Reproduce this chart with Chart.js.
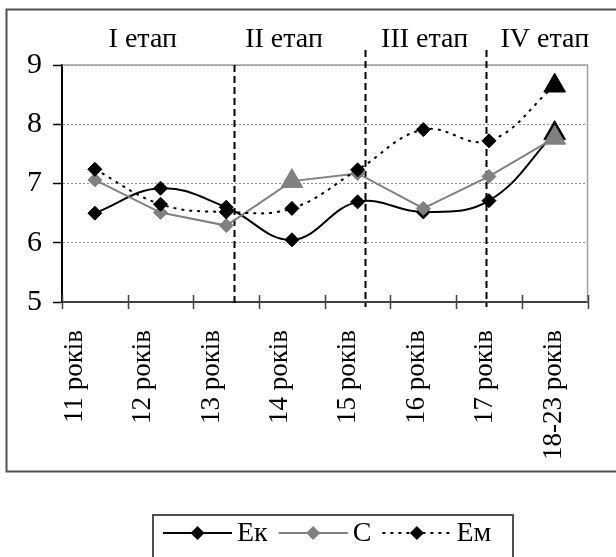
<!DOCTYPE html>
<html>
<head>
<meta charset="utf-8">
<script src="https://cdn.jsdelivr.net/npm/chart.js@4/dist/chart.umd.min.js"></script>
<style>
html,body{margin:0;padding:0;background:#fff;}
#wrap{width:616px;height:557px;position:relative;}
canvas{display:block;}
</style>
</head>
<body>
<div id="wrap"><canvas id="c" width="616" height="557"></canvas></div>
<script>
// ---- data ----
const categories = ['11 років', '12 років', '13 років', '14 років', '15 років', '16 років', '17 років', '18-23 років'];
const ekValues = [6.50, 6.92, 6.60, 6.05, 6.69, 6.52, 6.71, 7.85];
const sValues  = [7.06, 6.51, 6.29, 7.04, 7.17, 6.58, 7.12, 7.77];
const emValues = [7.24, 6.65, 6.52, 6.58, 7.23, 7.91, 7.72, 8.65];
const seriesNames = ['Ек', 'С', 'Ем'];
const yTicks = [5, 6, 7, 8, 9];
const stageNames = ['I етап', 'II етап', 'III етап', 'IV етап'];
// stage annotations in category-index units
const stageCenters = [0.73, 2.88, 5.02, 6.85];
const stageDividers = [2.12, 4.12, 5.96];

const FONT = "'Times New Roman', 'Liberation Serif', serif";

function styles(triIdx) {
  return categories.map((_, i) => triIdx.includes(i) ? 'triangle' : 'rectRot');
}
function radii(triIdx) {
  return categories.map((_, i) => triIdx.includes(i) ? 12.5 : 7);
}

const decor = {
  id: 'decor',
  beforeDatasetsDraw(chart) {
    const {ctx, chartArea: a} = chart;
    const x = chart.scales.x;
    ctx.save();
    ctx.strokeStyle = '#a0a0a0';
    ctx.lineWidth = 1.5;
    ctx.beginPath();
    ctx.moveTo(a.left, a.top); ctx.lineTo(a.right, a.top); ctx.lineTo(a.right, a.bottom);
    ctx.stroke();
    ctx.strokeStyle = '#000';
    ctx.lineWidth = 2;
    ctx.setLineDash([7, 4]);
    stageDividers.forEach((v, i) => {
      const px = Math.round(x.getPixelForValue(v)) + 0.5;
      ctx.beginPath();
      ctx.moveTo(px, i === 0 ? a.top : a.top - 15);
      ctx.lineTo(px, a.bottom + 5);
      ctx.stroke();
    });
    ctx.restore();
  },
  afterDraw(chart) {
    const {ctx, chartArea: a} = chart;
    const x = chart.scales.x;
    ctx.save();
    ctx.strokeStyle = '#404040';
    ctx.lineWidth = 1.5;
    for (let i = 0; i <= categories.length; i++) {
      const px = Math.round(x.getPixelForValue(i - 0.5)) + 0.5;
      ctx.beginPath();
      ctx.moveTo(px, a.bottom - 7); ctx.lineTo(px, a.bottom + 7);
      ctx.stroke();
    }
    ctx.fillStyle = '#000';
    ctx.font = '28px ' + FONT;
    ctx.textAlign = 'center';
    ctx.textBaseline = 'alphabetic';
    stageNames.forEach((t, i) => {
      ctx.fillText(t, x.getPixelForValue(stageCenters[i]), 47);
    });
    ctx.strokeStyle = '#505050';
    ctx.lineWidth = 2;
    ctx.strokeRect(6.5, 9.5, 620, 462);
    const lx0 = 153, lx1 = 513, ly0 = 515, ly = 533;
    ctx.strokeRect(lx0, ly0, lx1 - lx0, 60);
    ctx.font = '28px ' + FONT;
    ctx.textAlign = 'left';
    ctx.textBaseline = 'middle';
    let cx = 163;
    chart.data.datasets.forEach((ds) => {
      const len = 69;
      ctx.save();
      ctx.strokeStyle = ds.borderColor;
      ctx.lineWidth = ds.borderWidth;
      ctx.setLineDash(ds.borderDash || []);
      ctx.beginPath(); ctx.moveTo(cx, ly); ctx.lineTo(cx + len, ly); ctx.stroke();
      ctx.setLineDash([]);
      ctx.fillStyle = ds.pointBackgroundColor;
      const m = cx + len / 2, r = 7;
      ctx.beginPath();
      ctx.moveTo(m - r, ly); ctx.lineTo(m, ly - r); ctx.lineTo(m + r, ly); ctx.lineTo(m, ly + r);
      ctx.closePath(); ctx.fill();
      ctx.restore();
      ctx.fillStyle = '#000';
      const tx = cx + len + 5;
      ctx.fillText(ds.label, tx, ly + 1);
      cx = tx + ctx.measureText(ds.label).width + 11;
    });
    ctx.restore();
  }
};

new Chart(document.getElementById('c'), {
  type: 'line',
  data: {
    labels: categories,
    datasets: [
      {
        label: seriesNames[0], data: ekValues, xAxisID: 'x', yAxisID: 'y', order: 3,
        borderColor: '#000', borderWidth: 2, tension: 0.4,
        pointStyle: styles([7]), pointRadius: radii([7]),
        pointBackgroundColor: '#000', pointBorderColor: '#000', pointBorderWidth: 1
      },
      {
        label: seriesNames[1], data: sValues, xAxisID: 'x', yAxisID: 'y', order: 2,
        borderColor: '#808080', borderWidth: 2, tension: 0,
        pointStyle: styles([3, 7]), pointRadius: radii([3, 7]),
        pointBackgroundColor: '#808080', pointBorderColor: '#808080', pointBorderWidth: 1
      },
      {
        label: seriesNames[2], data: emValues, xAxisID: 'x', yAxisID: 'y', order: 1,
        borderColor: '#000', borderWidth: 2, borderDash: [3, 5], tension: 0.4,
        pointStyle: styles([7]), pointRadius: radii([7]),
        pointBackgroundColor: '#000', pointBorderColor: '#000', pointBorderWidth: 1
      }
    ]
  },
  options: {
    responsive: false,
    animation: false,
    devicePixelRatio: 1,
    layout: {padding: {top: 65, right: 9, left: 0, bottom: 0}},
    plugins: {legend: {display: false}, tooltip: {enabled: false}},
    scales: {
      x: {
        type: 'category', display: false, offset: true
      },
      xl: {
        type: 'linear', position: 'bottom', axis: 'x',
        min: -0.183, max: 7.493,
        afterBuildTicks: s => { s.ticks = categories.map((c, i) => ({value: i})); },
        afterFit: s => { s.height = 255; },
        grid: {display: false, drawTicks: false},
        border: {display: true, color: '#404040', width: 2},
        ticks: {
          autoSkip: false, maxRotation: 90, minRotation: 90, padding: 28,
          color: '#000', font: {family: FONT, size: 27},
          callback: v => categories[v]
        }
      },
      y: {
        min: 5, max: 9,
        afterBuildTicks: s => { s.ticks = yTicks.map(v => ({value: v})); },
        afterFit: s => { s.width = 62; },
        grid: {color: '#8c8c8c', lineWidth: 1, tickLength: 9, tickColor: '#000', tickWidth: 1.5, tickBorderDash: []},
        border: {display: true, color: '#000', width: 2, dash: [2, 2]},
        ticks: {color: '#000', padding: 11, font: {family: FONT, size: 30}, callback: v => String(v)}
      }
    }
  },
  plugins: [decor]
});
</script>
</body>
</html>
